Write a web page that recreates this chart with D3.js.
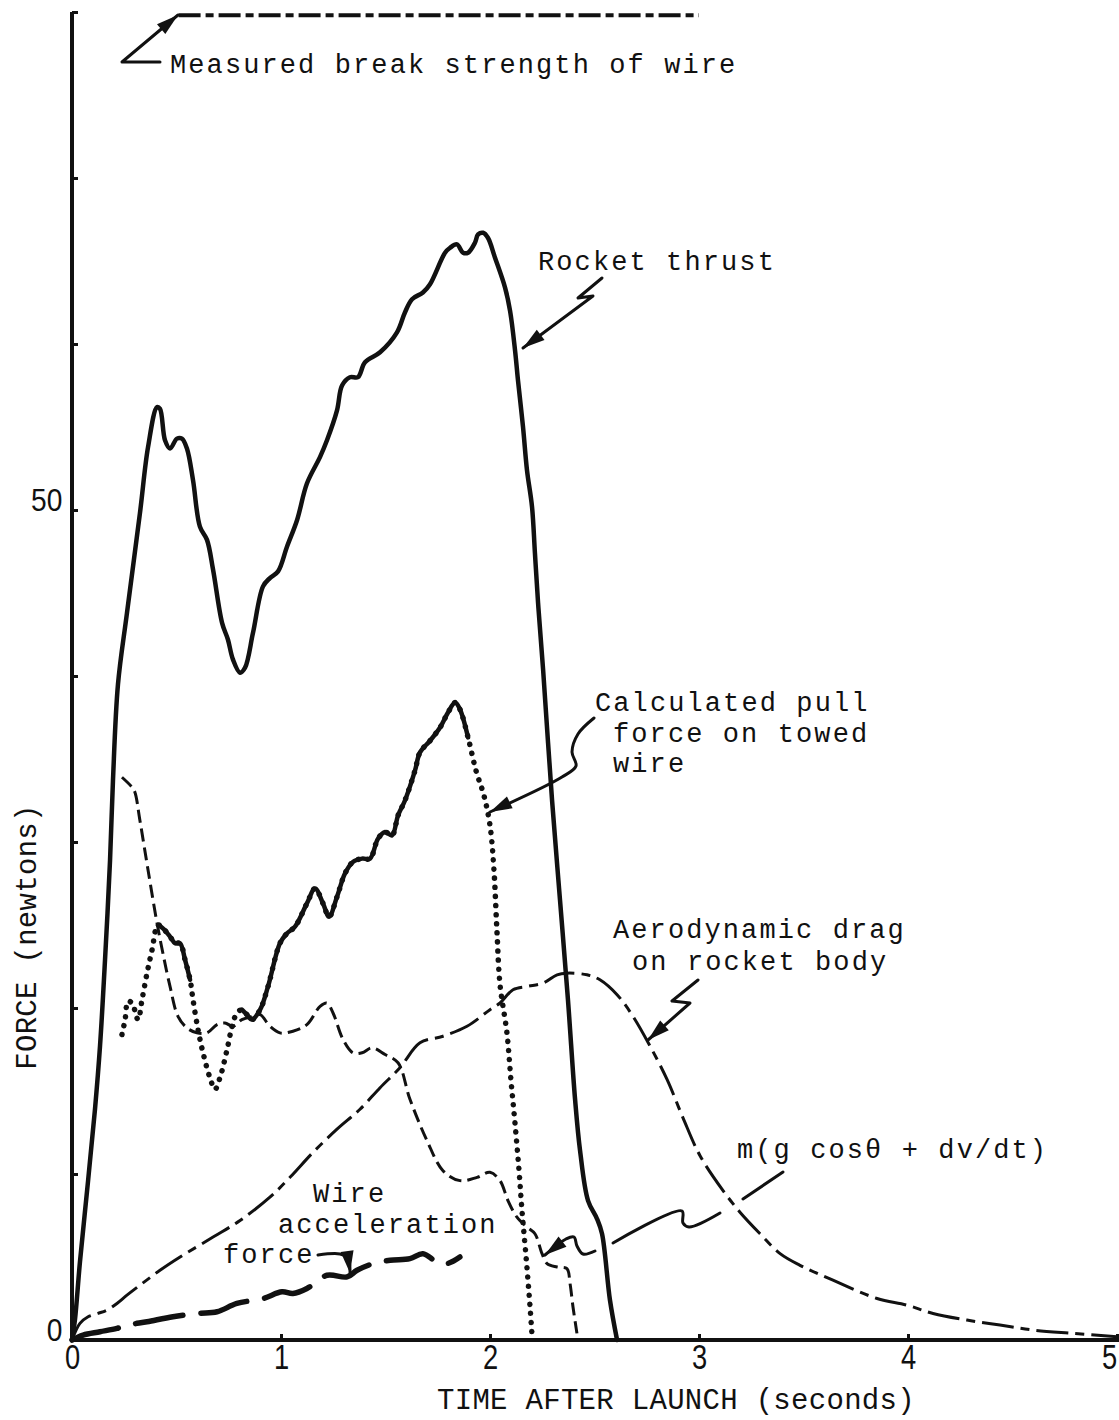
<!DOCTYPE html>
<html><head><meta charset="utf-8">
<script src="https://cdn.jsdelivr.net/npm/d3@7"></script>
<style>body{margin:0;background:#fff}svg{display:block}</style>
</head><body>
<svg id="c" width="1119" height="1420"></svg>
<script>
// ---------- data (time in s, force in N) ----------
const xTicks = [0, 1, 2, 3, 4, 5];
const yTickValues = [0, 10, 20, 30, 40, 50, 60, 70, 80];
const yTickLabels = [0, 50];

const breakT = [0.51, 3.0];
const breakF = [79.8, 79.8];

const thrustT = [0,0.014,0.038,0.077,0.110,0.134,0.158,0.182,0.196,0.220,0.263,0.325,0.364,0.407,0.421,0.445,0.469,0.502,0.526,0.550,0.579,0.612,0.646,0.675,0.718,0.746,0.770,0.804,0.828,0.866,0.914,0.947,0.986,1.029,1.077,1.124,1.187,1.220,1.268,1.292,1.330,1.368,1.402,1.474,1.555,1.593,1.627,1.679,1.713,1.785,1.809,1.842,1.871,1.895,1.928,1.943,1.967,1.990,2.024,2.072,2.096,2.120,2.134,2.158,2.177,2.201,2.215,2.230,2.254,2.297,2.335,2.373,2.407,2.431,2.469,2.512,2.536,2.574,2.608];
const thrustF = [0,1.2,4.7,9.6,13.9,17.7,22.9,28.9,33.7,39.5,43.8,49.8,53.8,56.2,56.1,54.2,53.7,54.3,54.3,53.7,51.8,49.0,48.2,46.4,43.2,42.2,41.0,40.2,40.5,42.6,45.4,45.9,46.3,47.8,49.4,51.6,53.2,54.2,56.0,57.5,58.0,58.0,58.9,59.5,60.7,61.9,62.7,63.1,63.6,65.5,65.8,66.0,65.5,65.5,66.1,66.6,66.7,66.4,65.2,63.4,62.0,59.6,57.8,55.0,52.4,50.2,47.4,44.4,40.4,32.5,26.5,20.5,14.5,11.4,8.4,7.3,6.4,2.4,0];

const pullT = [0.239,0.254,0.268,0.287,0.316,0.335,0.359,0.383,0.411,0.435,0.469,0.493,0.517,0.541,0.565,0.579,0.603,0.627,0.660,0.684,0.708,0.742,0.766,0.789,0.813,0.837,0.861,0.900,0.938,0.995,1.029,1.067,1.124,1.163,1.201,1.230,1.268,1.306,1.344,1.388,1.426,1.464,1.498,1.531,1.560,1.593,1.641,1.665,1.713,1.761,1.799,1.833,1.856,1.895,1.933,1.971,2.000,2.019,2.033,2.048,2.081,2.100,2.120,2.139,2.153,2.172,2.191,2.201];
const pullF = [18.4,19.3,20.4,20.3,19.3,20.5,22.1,23.5,25.0,24.8,24.3,23.9,23.9,22.9,21.7,20.5,18.7,17.3,15.8,15.1,15.8,17.5,18.9,19.7,19.9,19.6,19.3,19.9,21.3,23.9,24.5,24.9,26.3,27.2,26.3,25.5,26.7,28.1,28.8,29.0,29.0,30.2,30.6,30.4,31.6,32.5,34.3,35.4,36.1,36.9,37.8,38.4,38.0,36.3,34.3,32.8,31.0,28.3,24.7,21.4,18.5,15.7,13.0,10.2,7.8,5.1,2.1,0.3];
const pullSolidRanges = [[0.41, 0.57], [0.79, 1.93]];

const mgT = [0.239,0.287,0.301,0.325,0.364,0.407,0.435,0.469,0.507,0.550,0.598,0.646,0.694,0.732,0.770,0.813,0.866,0.900,0.947,0.995,1.057,1.124,1.187,1.220,1.249,1.297,1.344,1.388,1.435,1.498,1.560,1.617,1.699,1.775,1.856,1.938,2.000,2.048,2.086,2.129,2.177,2.215,2.249,2.273,2.321,2.368,2.383,2.397,2.416];
const mgF = [33.9,33.3,33.0,31.3,28.3,25.1,23.3,21.3,19.5,18.8,18.5,18.5,19.0,19.1,18.9,19.3,19.5,19.6,18.9,18.5,18.6,19.0,20.1,20.3,19.7,18.1,17.3,17.3,17.6,17.2,16.7,14.5,12.0,10.2,9.6,9.8,10.1,9.6,8.4,7.4,6.8,6.4,5.2,4.6,4.4,4.3,3.4,2.0,0.4];

const dragT = [0,0.038,0.077,0.124,0.167,0.215,0.263,0.325,0.421,0.517,0.675,0.804,0.947,1.043,1.153,1.268,1.378,1.474,1.569,1.665,1.775,1.890,2.000,2.048,2.110,2.177,2.254,2.321,2.368,2.464,2.526,2.608,2.684,2.766,2.847,2.923,3.005,3.115,3.196,3.292,3.388,3.483,3.641,3.852,3.995,4.120,4.282,4.440,4.598,4.789,5.0];
const dragF = [0,1.0,1.4,1.6,1.8,2.2,2.7,3.3,4.2,5.0,6.2,7.2,8.6,9.8,11.3,12.7,13.9,15.2,16.4,17.9,18.3,18.9,19.9,20.3,21.1,21.3,21.5,22.0,22.1,22.0,21.7,20.8,19.5,17.7,15.7,13.4,11.1,9.0,7.7,6.4,5.2,4.5,3.6,2.5,2.1,1.6,1.2,0.9,0.6,0.4,0.2];

const wireT = [0,0.053,0.134,0.215,0.268,0.359,0.483,0.603,0.694,0.789,0.914,1.005,1.057,1.124,1.220,1.316,1.364,1.440,1.522,1.617,1.679,1.746,1.794,1.856];
const wireF = [0,0.3,0.5,0.7,0.9,1.1,1.4,1.6,1.7,2.2,2.5,2.9,2.8,3.1,3.9,3.8,4.2,4.6,4.8,4.9,5.2,4.7,4.6,5.0];

// ---------- drawing ----------
const W = 1119, H = 1420, ink = '#111';
const svg = d3.select('#c');
svg.append('rect').attr('width', W).attr('height', H).attr('fill', '#fff');

const x = d3.scaleLinear().domain([0, 5]).range([72, 1117]);
const y = d3.scaleLinear().domain([0, 80]).range([1340, 12]);
const zip = (a, b) => a.map((v, i) => [v, b[i]]);
const line = d3.line().x(d => x(d[0])).y(d => y(d[1])).curve(d3.curveCatmullRom.alpha(0.5));

const mono = "'Courier New','Liberation Mono',monospace";
const sans = "'Liberation Sans',Arial,sans-serif";

// axes
const gx = svg.append('g').attr('transform', `translate(0,${y(0)})`)
  .call(d3.axisBottom(x).tickValues(xTicks).tickSize(-6).tickSizeOuter(0).tickPadding(4).tickFormat(d3.format('d')));
gx.select('.domain').remove();
gx.selectAll('.tick line').attr('stroke', ink).attr('stroke-width', 3);
gx.selectAll('.tick text').attr('font-family', sans).attr('font-size', 35).attr('fill', ink)
  .attr('transform', 'scale(0.78,1)')
  .attr('x', d => d === xTicks[xTicks.length - 1] ? -10 : 0);

const gy = svg.append('g').attr('transform', `translate(${x(0)},0)`)
  .call(d3.axisLeft(y).tickValues(yTickValues).tickSize(-6).tickSizeOuter(0).tickPadding(11)
    .tickFormat(d => yTickLabels.includes(d) ? d : ''));
gy.select('.domain').remove();
gy.selectAll('.tick line').attr('stroke', ink).attr('stroke-width', 3);
gy.selectAll('.tick text').attr('font-family', sans).attr('font-size', 32).attr('fill', ink)
  .attr('dy', '0.02em').attr('transform', 'scale(0.88,1)');

svg.append('line').attr('x1', x(0)).attr('x2', W).attr('y1', y(0)).attr('y2', y(0))
  .attr('stroke', ink).attr('stroke-width', 4);
svg.append('line').attr('x1', x(0)).attr('x2', x(0)).attr('y1', y(80)).attr('y2', y(0) + 2)
  .attr('stroke', ink).attr('stroke-width', 4);

// series
function series(data, width, dash, cap) {
  svg.append('path').attr('d', line(data)).attr('fill', 'none').attr('stroke', ink)
    .attr('stroke-width', width).attr('stroke-dasharray', dash || null)
    .attr('stroke-linecap', cap || 'round').attr('stroke-linejoin', 'round');
}
series(zip(breakT, breakF), 4, '22,5,8,5', 'butt');
series(zip(dragT, dragF), 3, '32,7,9,7', 'butt');
series(zip(mgT, mgF), 3, '13,6', 'butt');
series(zip(wireT, wireF), 5.5, '48,18', 'round');
const pull = zip(pullT, pullF);
series(pull, 5.5, '0.1,9', 'round');
pullSolidRanges.forEach(([a, b]) => series(pull.filter(d => d[0] >= a && d[0] <= b), 4.5, null, 'round'));
series(zip(thrustT, thrustF), 4.5, null, 'round');

// annotations (leader lines and labels, in page pixels)
function leader(pts, arrow, curved) {
  const gen = d3.line().curve(curved ? d3.curveCatmullRom.alpha(0.5) : d3.curveLinear);
  svg.append('path').attr('d', gen(pts)).attr('fill', 'none').attr('stroke', ink)
    .attr('stroke-width', 3).attr('stroke-linecap', 'round').attr('stroke-linejoin', 'round');
  if (arrow) {
    const [x1, y1] = pts[pts.length - 2], [x2, y2] = pts[pts.length - 1];
    const a = Math.atan2(y2 - y1, x2 - x1), L = 22, w = 6.5;
    const bx = x2 - L * Math.cos(a), by = y2 - L * Math.sin(a);
    const px = -Math.sin(a) * w, py = Math.cos(a) * w;
    svg.append('path').attr('d', `M${x2},${y2}L${bx + px},${by + py}L${bx - px},${by - py}Z`).attr('fill', ink);
  }
}
leader([[160, 62], [122, 62], [178, 15]], true, false);
leader([[602, 278], [578, 298], [593, 296], [523, 348]], true, false);
leader([[594, 718], [578, 734], [572, 752], [576, 766], [562, 777], [490, 812]], true, true);
leader([[698, 980], [672, 1001], [690, 1003], [648, 1040]], true, false);
leader([[783, 1172], [743, 1199]], false, false);
leader([[720, 1213], [689, 1227], [683, 1223], [682, 1211], [613, 1243]], false, true);
leader([[595, 1251], [583, 1254], [577, 1246], [574, 1237], [566, 1239], [545, 1255]], true, true);
leader([[318, 1255], [340, 1254], [348, 1258], [350, 1273]], true, true);

function label(tx, ty, s) {
  svg.append('text').attr('x', tx).attr('y', ty).attr('font-family', mono)
    .attr('font-size', 27).attr('letter-spacing', 2.1).attr('fill', ink)
    .style('white-space', 'pre').text(s);
}
label(170, 73, 'Measured break strength of wire');
label(538, 270, 'Rocket thrust');
label(595, 711, 'Calculated pull');
label(613, 742, 'force on towed');
label(613, 772, 'wire');
label(613, 938, 'Aerodynamic drag');
label(632, 970, 'on rocket body');
label(737, 1158, 'm(g cos\u03b8 + dv/dt)');
label(313, 1202, 'Wire');
label(278, 1233, 'acceleration');
label(223, 1263, 'force');

// axis titles
svg.append('text').attr('x', 676).attr('y', 1409).attr('text-anchor', 'middle')
  .attr('font-family', mono).attr('font-size', 29).attr('letter-spacing', 0.3).attr('fill', ink)
  .style('white-space', 'pre').text('TIME AFTER LAUNCH (seconds)');
svg.append('text').attr('transform', 'translate(36,937) rotate(-90)').attr('text-anchor', 'middle')
  .attr('font-family', mono).attr('font-size', 29).attr('letter-spacing', 0.3).attr('fill', ink)
  .style('white-space', 'pre').text('FORCE (newtons)');
</script>
</body></html>
